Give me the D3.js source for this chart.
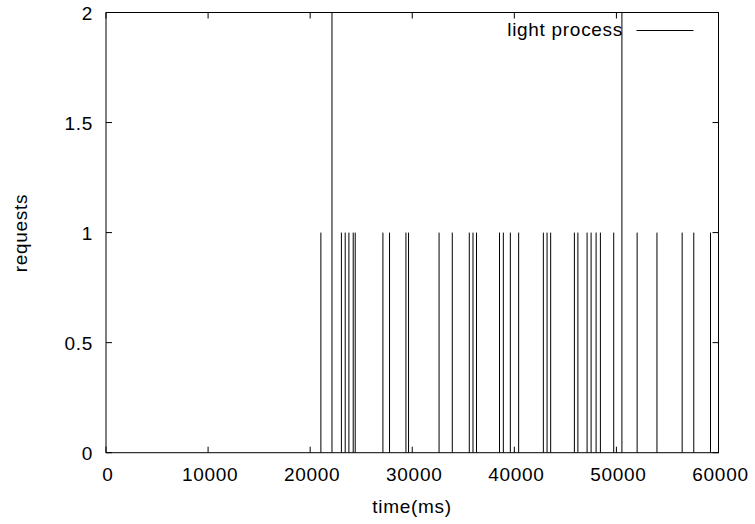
<!DOCTYPE html>
<html>
<head>
<meta charset="utf-8">
<script src="https://cdn.jsdelivr.net/npm/d3@7"></script>
<style>
  html, body { margin: 0; padding: 0; background: #fff; }
  text { font-family: "Liberation Sans", Arial, sans-serif; font-size: 19px; letter-spacing: 0.7px; fill: #000; }
</style>
</head>
<body>
<svg id="chart"></svg>
<script>
// set svg params

var svgWidth = 755, svgHeight = 524;

// data: request times (ms) and request counts

var times = [21050, 22137, 23059, 23431, 23794, 24216, 24412, 27127, 27775, 29382,
             29637, 32627, 33922, 35588, 35951, 36294, 38549, 38922, 39608, 40422,
             42843, 43206, 43559, 45882, 46225, 47127, 47520, 48010, 48431, 49735,
             50539, 52029, 53971, 56441, 57578, 59216];
var counts = [1, 2, 1, 1, 1, 1, 1, 1, 1, 1,
              1, 1, 1, 1, 1, 1, 1, 1, 1, 1,
              1, 1, 1, 1, 1, 1, 1, 1, 1, 1,
              2, 1, 1, 1, 1, 1];

var xTicks = [0, 10000, 20000, 30000, 40000, 50000, 60000];
var yTicks = [0, 0.5, 1, 1.5, 2];
var seriesName = "light process";

// plot frame (no "top" name: window.top is taken)

var plotLeft = 106, plotRight = 718.5, plotTop = 12.5, plotBottom = 452.7;
var tickLen = 6;

var xScale = d3.scaleLinear()
  .domain([0, 60000])
  .range([plotLeft, plotRight]);

var yScale = d3.scaleLinear()
  .domain([0, 2])
  .range([plotBottom, plotTop]);

var chart = d3.select("#chart")
  .attr("width", svgWidth)
  .attr("height", svgHeight);

// impulses

chart.append("g")
  .selectAll("line")
  .data(times)
  .enter()
  .append("line")
  .attr("x1", function (d) { return xScale(d); })
  .attr("x2", function (d) { return xScale(d); })
  .attr("y1", yScale(0))
  .attr("y2", function (d, i) { return yScale(counts[i]); })
  .attr("stroke", "#000")
  .attr("stroke-width", 1);

// ticks (inward, mirrored like gnuplot)

var ticks = chart.append("g").attr("stroke", "#000").attr("stroke-width", 1);

xTicks.forEach(function (t) {
  var x = xScale(t);
  ticks.append("line").attr("x1", x).attr("x2", x).attr("y1", plotBottom).attr("y2", plotBottom - tickLen);
  ticks.append("line").attr("x1", x).attr("x2", x).attr("y1", plotTop).attr("y2", plotTop + tickLen);
});

yTicks.forEach(function (t) {
  var y = yScale(t);
  ticks.append("line").attr("x1", plotLeft).attr("x2", plotLeft + tickLen).attr("y1", y).attr("y2", y);
  ticks.append("line").attr("x1", plotRight).attr("x2", plotRight - tickLen).attr("y1", y).attr("y2", y);
});

// border

chart.append("rect")
  .attr("x", plotLeft)
  .attr("y", plotTop)
  .attr("width", plotRight - plotLeft)
  .attr("height", plotBottom - plotTop)
  .attr("fill", "none")
  .attr("stroke", "#000")
  .attr("stroke-width", 1);

// tick labels

chart.append("g")
  .selectAll("text")
  .data(xTicks)
  .enter()
  .append("text")
  .attr("x", function (d) { return xScale(d) + 2; })
  .attr("y", 481)
  .attr("text-anchor", "middle")
  .text(function (d) { return d; });

chart.append("g")
  .selectAll("text")
  .data(yTicks)
  .enter()
  .append("text")
  .attr("x", 93)
  .attr("y", function (d) { return yScale(d) + 7; })
  .attr("text-anchor", "end")
  .text(function (d) { return d; });

// axis titles

chart.append("text")
  .attr("x", 412)
  .attr("y", 513)
  .attr("text-anchor", "middle")
  .text("time(ms)");

chart.append("text")
  .attr("transform", "translate(27,233) rotate(-90)")
  .attr("text-anchor", "middle")
  .text("requests");

// legend

chart.append("text")
  .attr("x", 623)
  .attr("y", 36)
  .attr("text-anchor", "end")
  .text(seriesName);

chart.append("line")
  .attr("x1", 636.5)
  .attr("x2", 693.5)
  .attr("y1", 30.5)
  .attr("y2", 30.5)
  .attr("stroke", "#000")
  .attr("stroke-width", 1);
</script>
</body>
</html>
